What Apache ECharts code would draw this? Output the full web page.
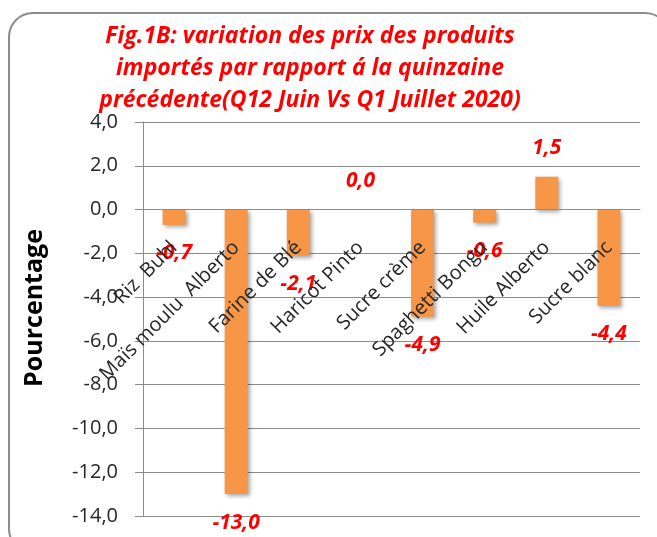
<!DOCTYPE html>
<html>
<head>
<meta charset="utf-8">
<script src="https://cdn.jsdelivr.net/npm/echarts@6/dist/echarts.min.js"></script>
<style>
  html, body { margin: 0; padding: 0; background: #fff; }
  #chart { width: 657px; height: 537px; }
</style>
</head>
<body>
<div id="chart"></div>
<script>
// data
var categories = ['Riz  Buhl', 'Maïs moulu  Alberto', 'Farine de Blé', 'Haricot Pinto',
  'Sucre crème', 'Spaghetti Bongu', 'Huile Alberto', 'Sucre blanc'];
var variations = [-0.7, -13.0, -2.1, 0.0, -4.9, -0.6, 1.5, -4.4];
var yMin = -14, yMax = 4, yStep = 2;

var titleText = 'Fig.1B: variation des prix des produits\nimportés par rapport á la quinzaine\nprécédente(Q12 Juin Vs Q1 Juillet 2020)';

function frNum(v) {
  return Number(v).toFixed(1).replace('.', ',');
}

var gridTop = 122, gridBottom = 21, chartH = 537;
var plotH = chartH - gridTop - gridBottom;
// category axis sits on the zero line, labels with it
var zeroOffset = -plotH * (0 - yMin) / (yMax - yMin);

// labels go past the end of each bar, above for >= 0
var barData = variations.map(function (v) {
  return { value: v, label: { position: v >= 0 ? 'top' : 'bottom' } };
});

var myChart = echarts.init(document.getElementById('chart'));

var option = {
  backgroundColor: '#fff',
  animation: false,
  textStyle: { fontFamily: '"Open Sans", "Noto Sans", sans-serif' },
  title: {
    text: titleText,
    left: 305,
    top: 15,
    textAlign: 'center',
    textStyle: {
      color: '#ff0000',
      fontSize: 23,
      fontWeight: 'bold',
      fontStyle: 'italic',
      lineHeight: 32
    }
  },
  // rounded frame around the chart
  graphic: [{
    type: 'rect',
    shape: { x: 9, y: 13, width: 660, height: 540, r: 24 },
    style: { fill: 'none', stroke: '#8c8c8c', lineWidth: 2 },
    z: -1
  }],
  grid: { left: 143, right: 17, top: gridTop, bottom: gridBottom, outerBoundsMode: 'none' },
  xAxis: {
    type: 'category',
    data: categories,
    position: 'bottom',
    offset: zeroOffset,
    z: 5,
    axisLine: { onZero: false, lineStyle: { color: '#8c8c8c', width: 1 } },
    axisTick: { length: 7, lineStyle: { color: '#8c8c8c' } },
    axisLabel: {
      interval: 0,
      rotate: 45,
      margin: 35,
      color: '#262626',
      fontSize: 20
    }
  },
  yAxis: {
    type: 'value',
    min: yMin,
    max: yMax,
    interval: yStep,
    name: 'Pourcentage',
    nameLocation: 'middle',
    nameGap: 96,
    nameTextStyle: { fontSize: 25, fontWeight: 'bold', color: '#000', padding: [0, 0, 0, 22] },
    axisLine: { show: true, lineStyle: { color: '#8c8c8c' } },
    axisTick: { show: true, length: 8, lineStyle: { color: '#8c8c8c' } },
    splitLine: { lineStyle: { color: '#8c8c8c', width: 1 } },
    axisLabel: {
      formatter: frNum,
      margin: 25,
      color: '#262626',
      fontSize: 20
    }
  },
  series: [{
    name: 'Variation',
    type: 'bar',
    data: barData,
    barWidth: 23,
    itemStyle: {
      color: '#f79646',
      shadowColor: 'rgba(0,0,0,0.35)',
      shadowBlur: 4,
      shadowOffsetX: 2,
      shadowOffsetY: 2
    },
    label: {
      show: true,
      distance: 18,
      formatter: function (p) { return frNum(p.value); },
      color: '#ff0000',
      fontSize: 21,
      fontWeight: 'bold',
      fontStyle: 'italic'
    }
  }]
};

myChart.setOption(option);
</script>
</body>
</html>
